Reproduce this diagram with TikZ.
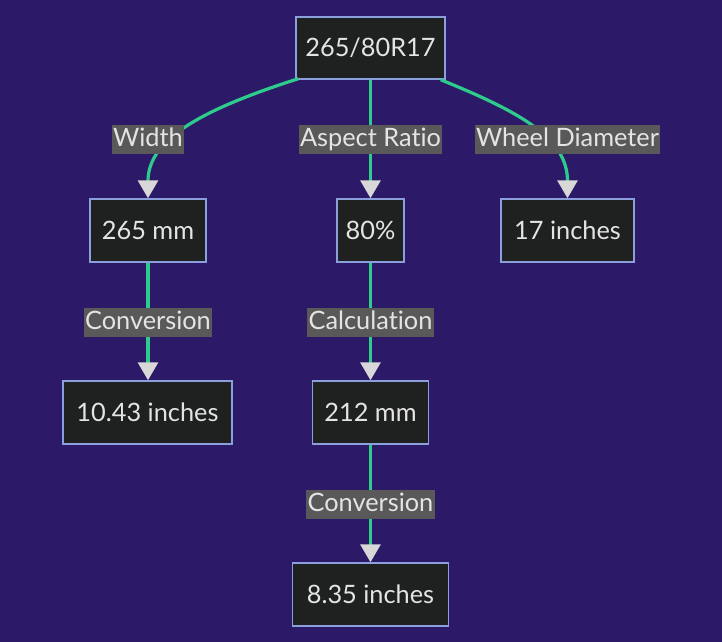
\documentclass[tikz,border=0pt]{standalone}
\usepackage{fontspec}
\setmainfont{Lato}[Ligatures={NoCommon}]
\usetikzlibrary{arrows.meta,calc}
\definecolor{bg}{HTML}{2C1A68}
\definecolor{nodefill}{HTML}{1F2020}
\definecolor{nodeborder}{HTML}{8A9FDB}
\definecolor{txt}{HTML}{E4E4E4}
\definecolor{lblbg}{HTML}{595959}
\definecolor{edgegreen}{HTML}{2ECC8C}
\definecolor{arrowgray}{HTML}{D8D8D8}
\tikzset{
  box/.style={draw=nodeborder, line width=1.1pt, fill=nodefill, text=txt,
    inner sep=0pt, minimum height=47.25pt, font=\fontsize{19pt}{22pt}\selectfont},
  lbl/.style={fill=lblbg, text=txt, inner xsep=1pt, inner ysep=2pt,
    text height=13.8pt, text depth=3.9pt, font=\fontsize{19pt}{22pt}\selectfont},
  edge/.style={draw=edgegreen, line width=2.4pt,
    -{Triangle[width=15pt,length=13.5pt,color=arrowgray,fill=arrowgray]}}
}
\begin{document}
\begin{tikzpicture}[x=0.75pt,y=-0.75pt]
\fill[bg] (0,0) rectangle (722,642);
\useasboundingbox (0,0) rectangle (722,642);
\node[box, minimum width=111.75pt, minimum height=46.5pt] (root) at (370.5,48) {265/80R17};
\node[box, minimum width=87pt] (w) at (148,230.5) {265 mm};
\node[box, minimum width=50.25pt] (ar) at (370.5,230.5) {80\%};
\node[box, minimum width=99.75pt] (wd) at (567.5,230.5) {17 inches};
\node[box, minimum width=126.75pt] (c1) at (147.5,412.5) {10.43 inches};
\node[box, minimum width=87pt] (c2) at (370.5,412.5) {212 mm};
\node[box, minimum width=117pt] (c3) at (370.5,594.5) {8.35 inches};
\draw[edge] ($(root.south west)+(3,-1)$) .. controls (200,110) and (148,140) .. (w.north);
\draw[edge] (root.south) -- (ar.north);
\draw[edge] ($(root.south east)+(-5,0)$) .. controls (520,112) and (567.5,138) .. (wd.north);
\draw[edge] (w.south) -- (c1.north -| w.south);
\draw[edge] (ar.south) -- (c2.north);
\draw[edge] (c2.south) -- (c3.north);
\node[lbl] (lw) at (148,139.5) {Width};
\node[lbl] (lar) at (370.5,139.5) {Aspect Ratio};
\node[lbl] (lwd) at (567.5,139.5) {Wheel Diameter};
\node[lbl] (lc1) at (148,322.5) {Conversion};
\node[lbl] (lc2) at (370.5,322.5) {Calculation};
\node[lbl] (lc3) at (370.5,504.5) {Conversion};
\end{tikzpicture}
\end{document}
